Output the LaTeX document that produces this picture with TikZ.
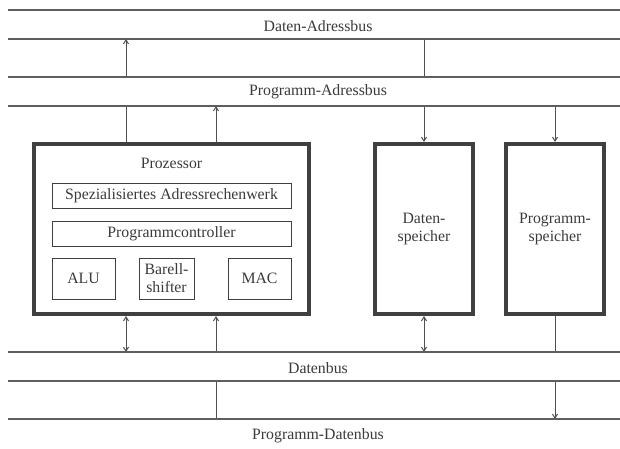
\documentclass[tikz,border=0pt]{standalone}
\usepackage{fontspec}
\setmainfont{Liberation Serif}
\newfontfamily\diagfont{Liberation Serif}
\usetikzlibrary{arrows.meta}
\definecolor{txt}{HTML}{3A3A3A}
\definecolor{busc}{HTML}{5E5E5E}
\definecolor{boxc}{HTML}{404040}
\definecolor{conc}{HTML}{505050}
\pgfdeclarelayer{bg}
\pgfsetlayers{bg,main}
\begin{document}
\begin{tikzpicture}[x=1pt,y=-1pt,
  every node/.style={font=\diagfont\fontsize{15.8}{18}\selectfont, text=txt},
  band/.style={fill=white, draw=none, minimum width=612pt, minimum height=29pt, inner sep=0pt, outer sep=0pt},
  busline/.style={draw=busc, line width=1.3pt},
  bigbox/.style={draw=boxc, line width=4pt, minimum height=170pt, inner sep=0pt, outer sep=2pt, align=center},
  smallbox/.style={draw=boxc, line width=1pt, inner sep=0pt, outer sep=0.5pt, align=center},
  conn/.style={draw=conc, line width=1pt, arrows={-Straight Barb[length=4pt,width=5pt]}},
  conntwo/.style={draw=conc, line width=1pt, arrows={Straight Barb[length=4pt,width=5pt]-Straight Barb[length=4pt,width=5pt]}}
]
\useasboundingbox (0,0) rectangle (620,448);

% bus bands
\node[band] (dab) at (314,24.5) {};
\node[band] (pab) at (314,91.5) {};
\node[band] (db)  at (314,366.5) {};
\node[band] (pdb) at (314,433.5) {};

\draw[busline] (dab.north west) -- (dab.north east);
\draw[busline] (dab.south west) -- (dab.south east);
\draw[busline] (pab.north west) -- (pab.north east);
\draw[busline] (pab.south west) -- (pab.south east);
\draw[busline] (db.north west) -- (db.north east);
\draw[busline] (db.south west) -- (db.south east);
\draw[busline] (pdb.north west) -- (pdb.north east);

% bus labels
\node (tdab) at (318,26) {Daten-Adressbus};
\node (tpab) at (318,92) {Programm-Adressbus};
\node (tdb)  at (318,368) {Datenbus};
\node (tpdb) at (318,436) {Programm-Datenbus};

% processor
\node[bigbox, minimum width=275pt] (proc) at (171.5,229) {};
\node (tproc) at (171.5,163) {Prozessor};
\node[smallbox, minimum width=239pt, minimum height=25pt] (sar) at (171.5,195.5) {Spezialisiertes Adressrechenwerk};
\node[smallbox, minimum width=239pt, minimum height=25pt] (pc) at (171.5,233.5) {Programmcontroller};
\node[smallbox, minimum width=63pt, minimum height=41pt] (alu) at (83.5,278.5) {ALU};
\node[smallbox, minimum width=55pt, minimum height=41pt] (bs) at (166.5,278.5) {Barell-\\shifter};
\node[smallbox, minimum width=63pt, minimum height=41pt] (mac) at (259.5,278.5) {MAC};

% memories
\node[bigbox, minimum width=98pt] (dsp) at (424,229) {Daten-\\speicher};
\node[bigbox, minimum width=98pt] (psp) at (555,229) {Programm-\\speicher};

% connector x positions
\coordinate (xa) at (126,0);
\coordinate (xb) at (216,0);
\coordinate (xc) at (424,0);
\coordinate (xd) at (555,0);

\begin{pgfonlayer}{bg}
\draw[conn] (proc.north -| xa) -- (dab.south -| xa);
\draw[conn] (proc.north -| xb) -- (pab.south -| xb);
\draw[conn] (dab.south -| xc) -- (dsp.north);
\draw[conn] (pab.south -| xd) -- (psp.north);
\draw[conntwo] (proc.south -| xa) -- (db.north -| xa);
\draw[conn] (pdb.north -| xb) -- (proc.south -| xb);
\draw[conntwo] (dsp.south) -- (db.north -| xc);
\draw[conn] (psp.south) -- (pdb.north -| xd);
\end{pgfonlayer}
\end{tikzpicture}
\end{document}
